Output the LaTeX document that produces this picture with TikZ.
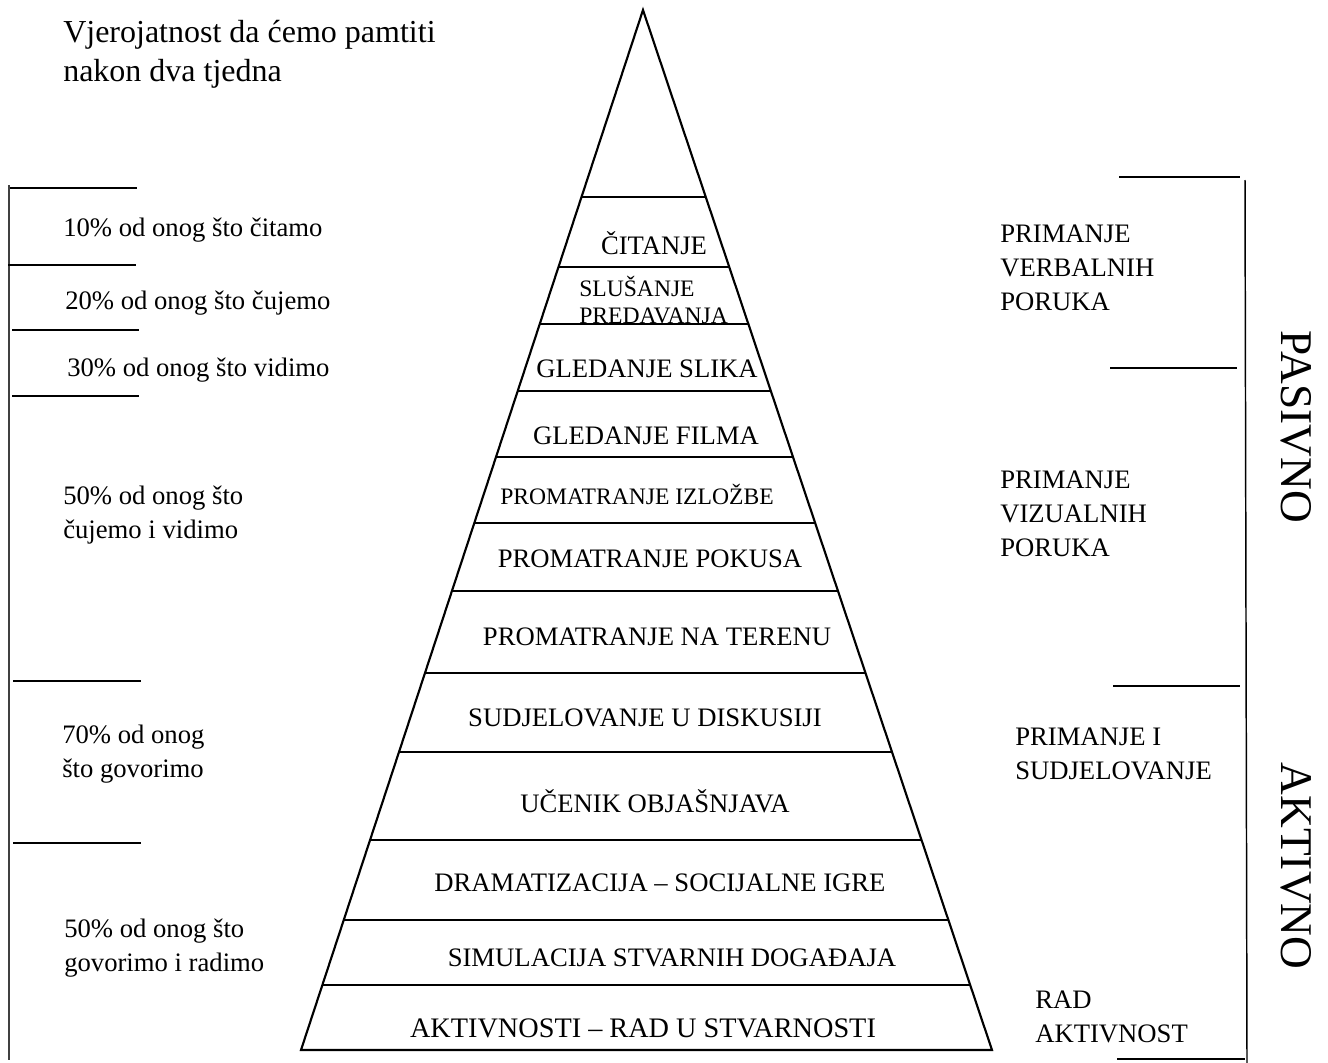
\documentclass[tikz,border=0pt]{standalone}
\usepackage{fontspec}
\setmainfont{Liberation Serif}
\usetikzlibrary{calc}
\tikzset{
  thin line/.style={line width=1.1pt, black},
  outline/.style={line width=1.6pt, black, line join=miter},
  side line/.style={line width=1.6pt, black!75},
  lbl/.style={font=\fontsize{20}{25.5}\selectfont, inner sep=0pt, align=left, anchor=west, yshift=-2pt},
  pyr/.style={font=\fontsize{20}{24}\selectfont, inner sep=0pt, yshift=-1.5pt},
  small pyr/.style={font=\fontsize{17.7}{20.3}\selectfont, inner sep=0pt, yshift=-1.5pt},
  big/.style={font=\fontsize{34}{40}\selectfont, inner sep=0pt, rotate=-90},
}
\newcommand{\pyrline}[1]{%
  \draw[thin line] ($(A)!{(#1-10)/1040}!(BL)$) -- ($(A)!{(#1-10)/1040}!(BR)$);}
\begin{document}
\begin{tikzpicture}[x=0.75pt, y=-0.75pt]
\useasboundingbox (0,0) rectangle (1328,1063);
% pyramid
\coordinate (A) at (643,10);
\coordinate (BL) at (301,1050);
\coordinate (BR) at (992,1050);
\draw[outline] (BL) -- (A) -- (BR) -- cycle;
\foreach \yy in {197,267,324,391,457,523,591,673,752,840,920,985}{\pyrline{\yy}}

% pyramid labels
\node[pyr] (p1) at (654,241) {ČITANJE};
\node[small pyr, align=left, anchor=west] (p2) at (579,298) {SLUŠANJE\\PREDAVANJA};
\node[pyr] (p3) at (647,367) {GLEDANJE SLIKA};
\node[pyr] (p4) at (646,434) {GLEDANJE FILMA};
\node[small pyr] (p5) at (637,492) {PROMATRANJE IZLOŽBE};
\node[pyr] (p6) at (650,557) {PROMATRANJE POKUSA};
\node[pyr] (p7) at (657,635) {PROMATRANJE NA TERENU};
\node[pyr] (p8) at (645,716) {SUDJELOVANJE U DISKUSIJI};
\node[pyr] (p9) at (655,799) {UČENIK OBJAŠNJAVA};
\node[pyr] (p10) at (660,881) {DRAMATIZACIJA – SOCIJALNE IGRE};
\node[pyr] (p11) at (672,956) {SIMULACIJA STVARNIH DOGAĐAJA};
\node[pyr, font=\fontsize{21.2}{24}\selectfont] (p12) at (643,1026) {AKTIVNOSTI – RAD U STVARNOSTI};

% title
\node[lbl, font=\fontsize{24}{29.3}\selectfont] (title) at (63,52) {Vjerojatnost da ćemo pamtiti\\nakon dva tjedna};

% left scale
\coordinate (L1) at (9,185);
\coordinate (L2) at (9,1060);
\draw[side line] (L1) -- (L2);
\foreach \ya/\xa/\xb in {188/10/137, 265/8/136, 330/12/139, 396/12/139, 681/13/141, 843/13/141}{
  \draw[thin line] (\xa,\ya) -- (\xb,\ya);}
\node[lbl] (l1) at (63,227) {10\% od onog što čitamo};
\node[lbl] (l2) at (65,300) {20\% od onog što čujemo};
\node[lbl] (l3) at (67,367) {30\% od onog što vidimo};
\node[lbl] (l4) at (63,512) {50\% od onog što\\čujemo i vidimo};
\node[lbl] (l5) at (62,751) {70\% od onog\\što govorimo};
\node[lbl] (l6) at (64,945) {50\% od onog što\\govorimo i radimo};

% right scale
\coordinate (R1) at (1245,180);
\coordinate (R2) at (1247,1063);
\draw[thin line] (R1) -- (R2);
\foreach \ya/\xa/\xb in {177/1119/1240, 368/1110/1237, 686/1113/1240, 1059/1117/1245}{
  \draw[thin line] (\xa,\ya) -- (\xb,\ya);}
\node[lbl] (r1) at (1000,265) {PRIMANJE\\VERBALNIH\\PORUKA};
\node[lbl] (r2) at (1000,511) {PRIMANJE\\VIZUALNIH\\PORUKA};
\node[lbl] (r3) at (1015,751) {PRIMANJE I\\SUDJELOVANJE};
\node[lbl] (r4) at (1035,1014) {RAD\\AKTIVNOST};

\node[big] (pas) at (1296,427) {PASIVNO};
\node[big] (akt) at (1296,866) {AKTIVNO};
\end{tikzpicture}
\end{document}
